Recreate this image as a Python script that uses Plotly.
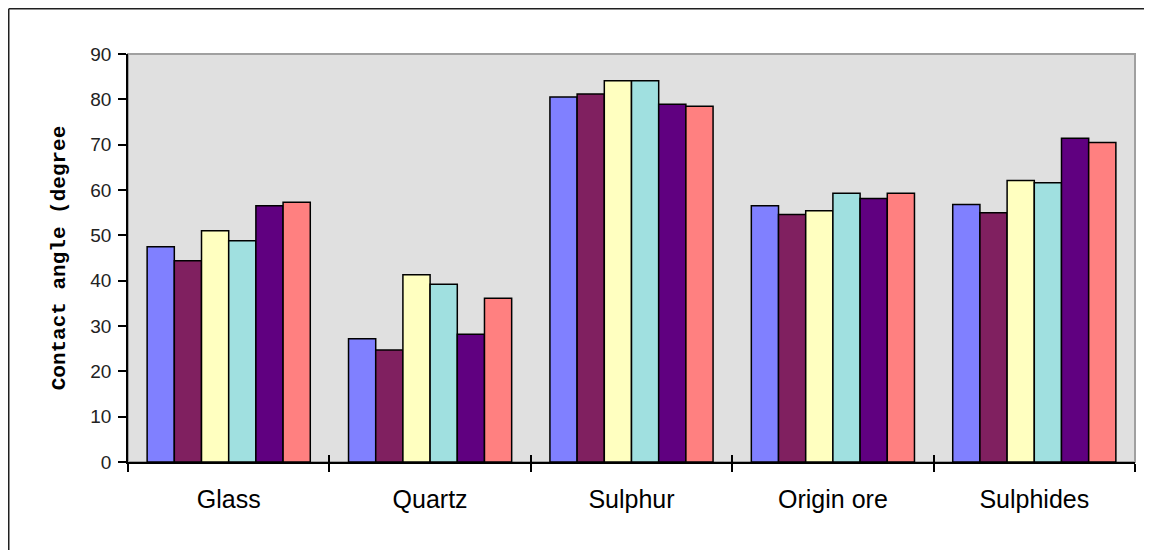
import plotly.graph_objects as go

categories = ["Glass", "Quartz", "Sulphur", "Origin ore", "Sulphides"]
series_names = ["Series 1", "Series 2", "Series 3", "Series 4", "Series 5", "Series 6"]
series_values = [
    [47.5, 27.2, 80.5, 56.5, 56.8],
    [44.4, 24.7, 81.2, 54.6, 55.0],
    [51.0, 41.3, 84.1, 55.4, 62.1],
    [48.8, 39.2, 84.1, 59.3, 61.6],
    [56.5, 28.2, 78.9, 58.1, 71.4],
    [57.3, 36.1, 78.5, 59.3, 70.5],
]
colors = ["#8080FF", "#802060", "#FFFFC0", "#A0E0E0", "#600080", "#FF8080"]
y_ticks = [0, 10, 20, 30, 40, 50, 60, 70, 80, 90]
y_title = "Contact angle (degree"

fig = go.Figure()
for name, vals, col in zip(series_names, series_values, colors):
    fig.add_trace(go.Bar(
        x=categories, y=vals, name=name,
        marker=dict(color=col, line=dict(color="black", width=1.5)),
    ))

# helper (empty) trace so the overlay axis carrying the upper half of the
# crossing category ticks is rendered
fig.add_trace(go.Scatter(
    x=categories, y=[None] * len(categories), xaxis="x2", mode="lines",
    showlegend=False, hoverinfo="skip",
))

# page has an 8px body margin, so the figure is sized/placed to compensate
W, H = 1144, 542
L, R, T, B = 120, 17, 46, 88
pw, ph = W - L - R, H - T - B

def px_to_paper_x(px):
    return (px - L) / pw

def px_to_paper_y(py):
    return (H - B - py) / ph

fig.update_layout(
    width=W, height=H,
    margin=dict(l=L, r=R, t=T, b=B, pad=0),
    paper_bgcolor="white",
    plot_bgcolor="#E0E0E0",
    barmode="group",
    bargap=0.19,
    bargroupgap=0,
    showlegend=False,
    font=dict(family="Liberation Sans, Arial", color="black"),
    xaxis=dict(
        type="category",
        showline=True, linecolor="black", linewidth=1.5,
        ticks="outside", ticklen=8, tickcolor="black", tickwidth=1.5,
        tickson="boundaries",
        tickfont=dict(size=25, family="Liberation Sans, Arial", color="black"),
        ticklabelstandoff=14,
        showgrid=False, zeroline=False,
    ),
    xaxis2=dict(
        type="category", overlaying="x", matches="x", anchor="y", side="bottom",
        showline=False,
        ticks="inside", ticklen=7, tickcolor="black", tickwidth=1.5,
        tickson="boundaries", showticklabels=False,
        showgrid=False, zeroline=False,
    ),
    yaxis=dict(
        range=[0, 90],
        tickvals=y_ticks,
        showline=True, linecolor="black", linewidth=1.5,
        ticks="outside", ticklen=8, tickcolor="black", tickwidth=1.5,
        tickfont=dict(size=19, family="Liberation Sans, Arial", color="#222222"),
        ticklabelstandoff=3,
        showgrid=False, zeroline=False,
        title=dict(
            text=y_title,
            font=dict(size=21, family="Liberation Mono, Courier New, monospace", color="black", weight="bold"),
            standoff=19,
        ),
    ),
    shapes=[
        # plot-area gray frame (top and right)
        dict(type="rect", xref="paper", yref="paper", x0=0, x1=1, y0=0, y1=1,
             line=dict(color="#A0A0A0", width=2), layer="below"),
        # outer chart frame (top and left edges)
        dict(type="line", xref="paper", yref="paper",
             x0=px_to_paper_x(0.75), x1=px_to_paper_x(W + 5),
             y0=px_to_paper_y(0.75), y1=px_to_paper_y(0.75),
             line=dict(color="#202020", width=1.5)),
        dict(type="line", xref="paper", yref="paper",
             x0=px_to_paper_x(0.75), x1=px_to_paper_x(0.75),
             y0=px_to_paper_y(0.75), y1=px_to_paper_y(H + 5),
             line=dict(color="#202020", width=1.5)),
    ],
)

fig.write_html("out.html")
